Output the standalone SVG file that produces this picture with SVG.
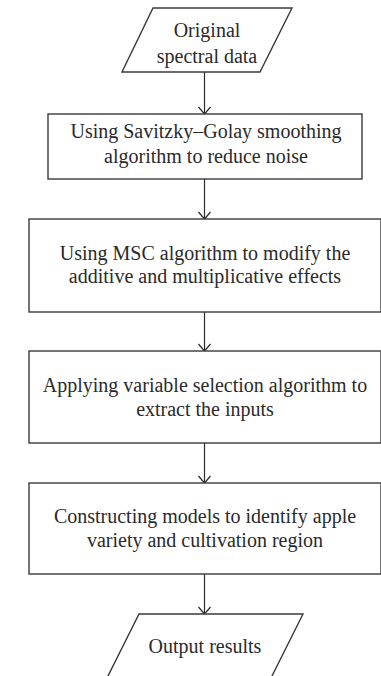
<svg xmlns="http://www.w3.org/2000/svg" width="381" height="676" viewBox="0 0 381 676">
<style>
.shape{fill:#fff;stroke:#3a3a3a;stroke-width:1.4}
.t{font-family:"Liberation Serif","DejaVu Serif",serif;font-size:20px;fill:#2a2a2a;text-anchor:middle}
.c{stroke:#2a2a2a;stroke-width:1.2;fill:none}
</style>
<defs>
<marker id="ah" viewBox="0 0 12 14" refX="11" refY="7" markerWidth="12" markerHeight="14" markerUnits="userSpaceOnUse" orient="auto">
<path d="M4,1 L11,7 L4,13" fill="none" stroke="#2a2a2a" stroke-width="1.2"/>
</marker>
</defs>
<rect width="381" height="676" fill="#fff"/>
<g id="connectors">
<line class="c" x1="204.5" y1="72" x2="204.5" y2="114" marker-end="url(#ah)"/>
<line class="c" x1="204.5" y1="179" x2="204.5" y2="219" marker-end="url(#ah)"/>
<line class="c" x1="204.5" y1="312" x2="204.5" y2="351" marker-end="url(#ah)"/>
<line class="c" x1="204.5" y1="443" x2="204.5" y2="483" marker-end="url(#ah)"/>
<line class="c" x1="204.5" y1="574" x2="204.5" y2="614" marker-end="url(#ah)"/>
</g>
<g id="n1">
<polygon class="shape" points="153,8 292,8 260,72 122,72"/>
<text class="t" x="207" y="37">Original</text>
<text class="t" x="207" y="63">spectral data</text>
</g>
<g id="n2">
<rect class="shape" x="48" y="114" width="314" height="65"/>
<text class="t" x="206" y="138">Using Savitzky–Golay smoothing</text>
<text class="t" x="206" y="163">algorithm to reduce noise</text>
</g>
<g id="n3">
<rect class="shape" x="29" y="219" width="352" height="93"/>
<text class="t" x="205" y="260">Using MSC algorithm to modify the</text>
<text class="t" x="205" y="283">additive and multiplicative effects</text>
</g>
<g id="n4">
<rect class="shape" x="29" y="351" width="352" height="92"/>
<text class="t" x="205" y="392">Applying variable selection algorithm to</text>
<text class="t" x="205" y="416">extract the inputs</text>
</g>
<g id="n5">
<rect class="shape" x="29" y="483" width="352" height="91"/>
<text class="t" x="205" y="523">Constructing models to identify apple</text>
<text class="t" x="205" y="547">variety and cultivation region</text>
</g>
<g id="n6">
<polygon class="shape" points="139,614 303,614 271,678 107,678"/>
<text class="t" x="205" y="653">Output results</text>
</g>
</svg>
